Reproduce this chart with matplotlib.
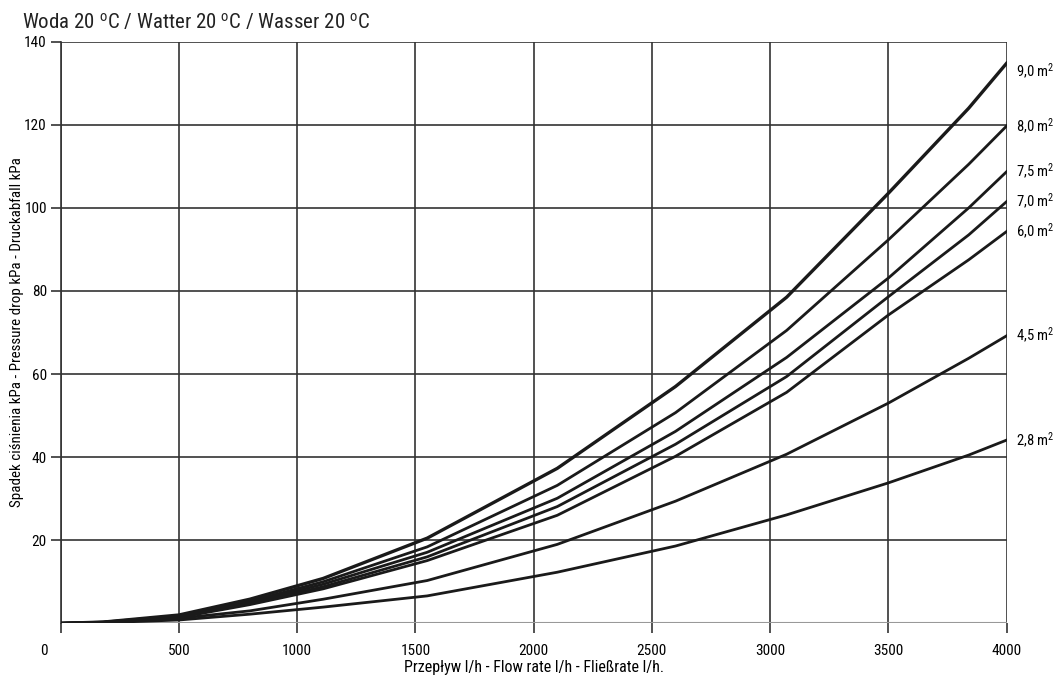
import matplotlib
matplotlib.use("Agg")
import matplotlib.pyplot as plt
import matplotlib.transforms as mtransforms
from matplotlib import font_manager

names = {f.name for f in font_manager.fontManager.ttflist}
fam = [n for n in ["Liberation Sans Narrow", "Roboto Condensed", "Open Sans Condensed"] if n in names] + ["DejaVu Sans"]
plt.rcParams['font.family'] = fam
plt.rcParams['mathtext.fontset'] = 'custom'
plt.rcParams['mathtext.rm'] = fam[0]
plt.rcParams['mathtext.it'] = fam[0]

flow = [0, 180, 500, 800, 1110, 1550, 2100, 2600, 3070, 3500, 3840, 4000]
areas = ["9,0", "8,0", "7,5", "7,0", "6,0", "4,5", "2,8"]
dp_90 = [0, 0.3, 2.0, 5.8, 10.8, 20.5, 37.3, 57.0, 78.5, 103.5, 124.0, 134.8]
dp_80 = [0, 0.3, 1.8, 5.3, 10.0, 18.4, 33.2, 50.7, 70.5, 92.3, 110.5, 119.7]
dp_75 = [0, 0.25, 1.6, 5.0, 9.4, 17.1, 30.1, 46.2, 64.0, 83.1, 100.0, 108.7]
dp_70 = [0, 0.25, 1.5, 4.8, 8.8, 16.0, 28.1, 43.1, 59.4, 78.6, 93.5, 101.5]
dp_60 = [0, 0.2, 1.4, 4.5, 8.3, 15.1, 26.0, 40.2, 55.6, 74.2, 87.5, 94.3]
dp_45 = [0, 0.2, 1.2, 3.0, 5.8, 10.3, 19.0, 29.4, 40.7, 53.0, 63.8, 69.2]
dp_28 = [0, 0.15, 0.8, 2.2, 3.9, 6.6, 12.3, 18.6, 26.1, 33.8, 40.5, 44.1]
series = [dp_90, dp_80, dp_75, dp_70, dp_60, dp_45, dp_28]
label_offsets = [-2, 0, 0, 0, 0, 0, 0]

xticks = [0, 500, 1000, 1500, 2000, 2500, 3000, 3500, 4000]
yticks = [20, 40, 60, 80, 100, 120, 140]

fig = plt.figure(figsize=(10.55, 6.81), dpi=100)
ax = fig.add_axes([0.0575, 0.0847, 0.8966, 0.8541])

for i, (a, s) in enumerate(zip(areas, series)):
    ax.plot(flow, s, color="#1a1a1a", lw=2.4 if i == 0 else 2.0, solid_joinstyle="miter", zorder=3)
    ax.annotate(a + " m$^{\\mathrm{2}}$", xy=(flow[-1], s[-1] + label_offsets[i]), xytext=(7, 0),
                textcoords="offset points", va="center", ha="left", fontsize=10.5,
                annotation_clip=False)

ax.set_xlim(0, 4000)
ax.set_ylim(0, 140)
ax.set_xticks(xticks)
ax.set_yticks(yticks)
ax.grid(True, color="#333333", lw=1.2)
ax.axhline(0, color="#999999", lw=1.5, zorder=2)
for sp in ["top", "right", "bottom"]:
    ax.spines[sp].set_visible(False)
ax.spines["left"].set_color("#333333")
ax.spines["left"].set_linewidth(1.2)
ax.tick_params(axis="both", length=7, width=1.2, color="#333333", labelsize=11, pad=3)
ax.tick_params(axis="x", pad=8)

# shift the "0" label left as in the reference
lbl0 = ax.get_xticklabels()[0]
lbl0.set_transform(lbl0.get_transform() + mtransforms.ScaledTranslation(-17 / 100, 0, fig.dpi_scale_trans))

ax.set_xlabel("Przepływ l/h - Flow rate l/h - Fließrate l/h.", fontsize=11.5, labelpad=1)
ax.set_ylabel("Spadek ciśnienia kPa - Pressure drop kPa - Druckabfall kPa", fontsize=10.8, labelpad=0)
fig.text(0.021, 0.968, "Woda 20 $^{\\mathrm{o}}$C / Watter 20 $^{\\mathrm{o}}$C / Wasser 20 $^{\\mathrm{o}}$C",
         fontsize=15, ha="left", va="center", color="#222222")

fig.savefig("out.png", dpi=100)
